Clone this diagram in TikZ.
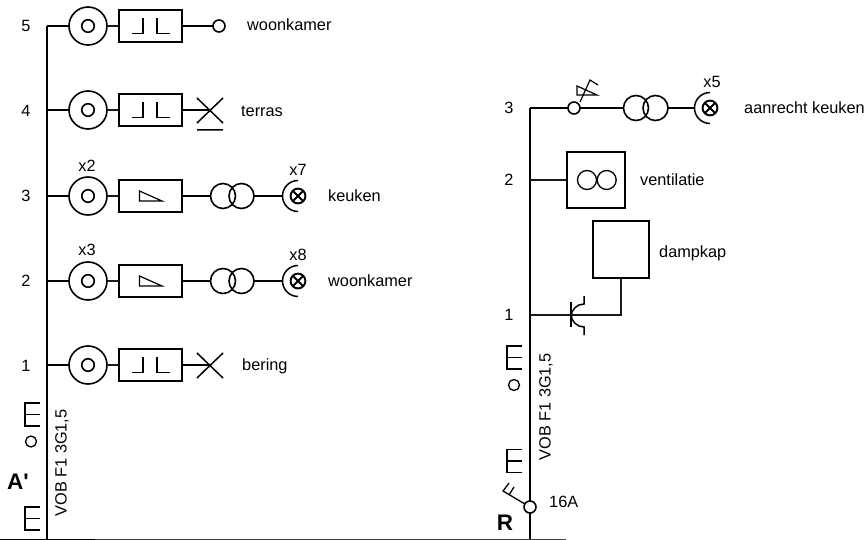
\documentclass[tikz,border=0pt]{standalone}
\usepackage{fontspec}
\setmainfont{Liberation Sans}
\newfontfamily\plainf{Liberation Sans}
\tikzset{
  x=1pt,y=-1pt,
  wire/.style={line width=1.2pt,black!90},
  thick wire/.style={line width=1.5pt,black},
  sym/.style={line width=1.5pt,black},
  pt/.style={circle,draw,line width=1.6pt,inner sep=0pt,minimum size=#1,outer sep=0pt},
  bx/.style={rectangle,draw,line width=1.8pt,inner sep=0pt,outer sep=0pt,minimum width=#1},
  txt/.style={inner sep=0pt,anchor=west,font=\fontsize{16.3}{16}\selectfont},
  ctxt/.style={inner sep=0pt,font=\fontsize{16.3}{16}\selectfont},
  big/.style={inner sep=0pt,font=\plainf\fontsize{22.5}{22}\selectfont\bfseries},
}
\newcommand{\outlet}[2]{%name,y
  \node[pt=38] (#1o) at (88,#2) {};
  \node[pt=12.5] (#1i) at (88,#2) {};
  \node[bx=63,minimum height=32] (#1b) at (150.5,#2) {};
  \draw[thick wire] (47,#2) -- (#1o.west);
  \draw[wire] (#1o.east) -- (#1b.west);
}
\newcommand{\twotick}[1]{%y
  \draw[sym] (132,#1+7.7) -- (143,#1+7.7) -- (143,#1-8);
  \draw[sym] (157,#1-8) -- (157,#1+7.7) -- (170,#1+7.7);
}
\newcommand{\dimmer}[1]{%y
  \draw[sym,line width=1.2pt] (139.5,#1-5) -- (162,#1+5) -- (139.5,#1+5) -- cycle;
}
\newcommand{\trafo}[4]{%name, x1, x2, y
  \node[pt=25] (#1a) at (#2,#4) {};
  \node[pt=25] (#1c) at (#3,#4) {};
}
\newcommand{\lamp}[3]{%name,x,y
  \node[pt=14.8,line width=1.9pt] (#1) at (#2,#3) {};
  \draw[sym,line width=1.8pt] (#1.45) -- (#1.225) (#1.135) -- (#1.315);
  \draw[sym] (#2,#3-15.5) arc[start angle=-90,end angle=-270,radius=15.5];
  \coordinate (#1w) at (#2-15.5,#3);
}
\newcommand{\esym}[2]{%x,ytop
  \draw[line width=1.3pt] (#1+14.5,#2) -- (#1,#2) -- (#1,#2+23) -- (#1+14.5,#2+23) (#1,#2+11.5) -- (#1+14.5,#2+11.5);
}
\begin{document}
\begin{tikzpicture}
\useasboundingbox (0,0) rectangle (865,540);
% left bus
\coordinate (lt) at (47,26);
\coordinate (lm) at (47,403);
\coordinate (lb) at (47,540);
\draw[line width=1.9pt] (lt) -- (lm);
\draw[line width=1.2pt] (lm) -- (lb);
\outlet{e}{26}
\outlet{d}{110}
\outlet{c}{196}
\outlet{b}{281}
\outlet{a}{365}
\twotick{26}\twotick{110}\twotick{365}
\dimmer{196}\dimmer{281}
\node[pt=12] (eend) at (219,26) {};
\draw[thick wire] (eb.east) -- (eend.west);
% terras
\coordinate (dx) at (210,110);
\draw[thick wire] (db.east) -- (dx);
\draw[sym] (197,98) -- (223,123) (197,123) -- (223,98) (197,130) -- (223,130);
% bering
\coordinate (ax) at (210,365);
\draw[thick wire] (ab.east) -- (ax);
\draw[sym] (197,353) -- (223,378) (197,378) -- (223,353);
% trafo rows
\trafo{ct}{223}{241.5}{196}
\trafo{bt}{223}{241.5}{281}
\draw[thick wire] (cb.east) -- (cta.west);
\draw[thick wire] (bb.east) -- (bta.west);
\lamp{cl}{298}{196}
\lamp{bl}{298}{281}
\draw[thick wire] (ctc.east) -- (clw);
\draw[thick wire] (btc.east) -- (blw);
% labels left
\node[ctxt] at (26,26) {5};
\node[ctxt] at (26,111) {4};
\node[ctxt] at (26,196) {3};
\node[ctxt] at (26,281) {2};
\node[ctxt] at (26,366) {1};
\node[txt] at (247,25) {woonkamer};
\node[txt] at (241,111) {terras};
\node[txt] at (242,366) {bering};
\node[txt] at (328,196) {keuken};
\node[txt] at (328,281) {woonkamer};
\node[ctxt] at (87,166) {x2};
\node[ctxt] at (87,250) {x3};
\node[ctxt] at (298,170) {x7};
\node[ctxt] at (298,255) {x8};
\esym{25}{403}
\node[pt=11,line width=1.3pt] (lc) at (31,441.5) {};
\esym{25}{507}
\node[big,anchor=center] at (18,482) {A'};
\node[ctxt,rotate=90] at (62,463) {VOB F1 3G1,5};
% right bus
\coordinate (rt) at (530,108);
\coordinate (rm) at (530,346);
\node[pt=12] (rs) at (530,507) {};
\coordinate (rb) at (530,540);
\draw[line width=1.6pt] (rt) -- (rm);
\draw[line width=1.2pt] (rm) -- (rs.north) (rs.south) -- (rb);
\node[pt=12] (rn) at (574,108) {};
\trafo{rt}{636}{655.5}{108}
\lamp{rl}{710}{108}
\draw[thick wire] (rt) -- (rn.west) (rn.east) -- (rta.west) (rtc.east) -- (rlw);
\draw[line width=1.2pt] (580,102) -- (590,80) -- (598,85);
\draw[line width=1.2pt] (577,86) -- (597,95) -- (577,95) -- cycle;
\node[ctxt] at (712,82) {x5};
\node[txt] at (744,108) {aanrecht keuken};
% ventilatie
\node[bx=58,minimum height=56] (vb) at (596,180) {};
\node[pt=19,line width=1.3pt] (v1) at (587,180) {};
\node[pt=19,line width=1.3pt] (v2) at (606.7,180) {};
\draw[wire] (530,180) -- (vb.west);
\node[txt] at (640,180) {ventilatie};
% dampkap
\node[bx=56,minimum height=57] (kb) at (621,249.5) {};
\coordinate (kc) at (621,315);
\coordinate (k1) at (530,315);
\draw[wire] (kb.south) -- (kc) -- (k1);
\draw[sym] (571,302) -- (571,327);
\draw[sym] (584,296) -- (584,304) arc[start angle=-90,end angle=-180,radius=13];
\draw[sym] (584,335) -- (584,327) arc[start angle=90,end angle=180,radius=13];
\node[txt] at (659,253) {dampkap};
\node[ctxt] at (509,108) {3};
\node[ctxt] at (509,180) {2};
\node[ctxt] at (509,315) {1};
\esym{507}{346}
\node[pt=11,line width=1.3pt] (rc) at (514,385) {};
\esym{507}{449.5}
\node[big,anchor=center] at (505,523) {R};
\node[txt] at (549,502) {16A};
\node[ctxt,rotate=90] at (546,407) {VOB F1 3G1,5};
\draw[line width=1.3pt] (rs) -- (503,491) -- (509,483) (509,495) -- (514,487);
% bottom
\coordinate (bl0) at (0,539);
\coordinate (bl1) at (566,539);
\coordinate (bl2) at (95,539);
\draw[line width=1pt,black!75] (bl0) -- (bl1);
\draw[line width=1pt] (bl0) -- (bl2);
\end{tikzpicture}
\end{document}
